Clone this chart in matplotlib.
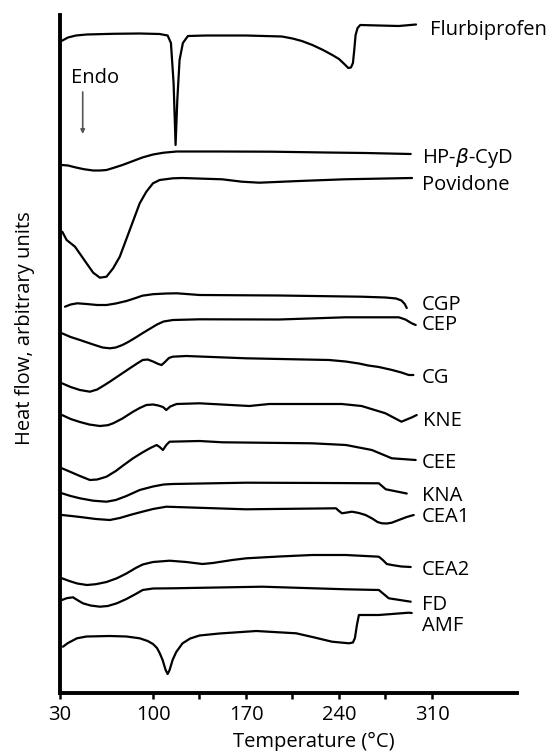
import matplotlib
matplotlib.use("Agg")
import matplotlib.pyplot as plt

plt.rcParams['font.family'] = ['Open Sans', 'DejaVu Sans']
plt.rcParams['mathtext.fontset'] = 'dejavusans'

# ---------------- data (temperature in °C, heat flow in arbitrary units) ----------------
flurbi_T = [31.5, 36, 42, 50, 70, 90, 105, 111, 113.5, 115.5, 117, 118.3, 120, 122.5, 126.3, 140, 170,
            197, 205, 212, 220, 228, 235, 240, 244, 247, 249, 250.5, 251.5, 252.5, 254, 256, 270, 285, 298]
flurbi_H = [659.3, 662.5, 664.5, 665.5, 666.2, 666.5, 666, 664.5, 657, 617, 555, 600, 640, 657, 664, 664.5,
            664.5, 663.5, 661.5, 659, 655, 650, 645, 641, 636, 632, 632.5, 637, 650, 665, 672, 675,
            674.5, 674, 675.5]

hpcyd_T = [31.5, 36, 42, 48, 55, 60, 65, 70, 77, 85, 92, 100, 108, 118, 150, 190, 230, 260, 294]
hpcyd_H = [535, 534.5, 532.5, 530.8, 529.5, 529.5, 530, 532, 535, 539, 542.5, 545.5, 547.3, 548.5,
           548.5, 548.3, 547.5, 547, 546]

povid_T = [31.7, 35, 41.3, 50, 55, 60, 65, 70, 75, 82.5, 90, 95, 100, 105, 115, 122, 152, 167, 180,
           210, 244, 295]
povid_H = [468.3, 460, 453.3, 436.7, 427.3, 422.3, 423.3, 431.7, 443.3, 470, 496.7, 508.3, 516.7, 520,
           521.7, 522, 520.7, 518.3, 517.3, 519, 520.7, 522]

cgp_T = [33.75, 38, 43, 50, 58, 65, 72, 80, 87, 92, 100, 110, 118, 135, 195, 257, 275, 283, 287,
         289.5, 291]
cgp_H = [393.3, 395.5, 396.7, 396, 395, 395, 396.5, 399, 402, 404.3, 405.8, 406.5, 406.7, 405, 404.5,
         403.3, 402.5, 401.5, 399.5, 396, 392]

cep_T = [31.5, 38, 45, 55, 62, 67.5, 72, 77, 82, 87, 92, 98, 103, 108, 115, 135, 195, 245, 285, 290,
         294.75, 297.75]
cep_H = [366.7, 363, 360, 355.5, 352.5, 351.7, 352.5, 355, 358.5, 362.5, 366.7, 371.5, 375.5, 378.5,
         380, 380.7, 380.5, 382.7, 382.7, 380.5, 376.7, 375]

cg_T = [31.5, 38, 45, 52.5, 58, 63, 67.5, 75, 82.5, 88, 92.25, 96, 100, 104, 106.5, 109, 112, 114.75,
        125, 170, 232.5, 245, 255, 262, 270, 280, 287, 292.5, 296]
cg_H = [316.7, 313, 310, 308.3, 310.5, 314.5, 318.3, 325, 331.7, 336.5, 340, 340.5, 338.5, 336, 335,
        338, 342, 343.3, 344, 341.7, 340, 338.5, 336.5, 334.5, 333, 330, 327.5, 325, 325]

kne_T = [31.5, 38, 45, 52, 60, 66, 70, 77, 85, 90, 95, 100, 104, 107.5, 110, 113, 117.75, 135, 172.5,
         187.5, 242, 257, 275, 287, 295, 298.5]
kne_H = [285, 281, 278, 275.5, 274, 274.8, 276.7, 281.5, 288.3, 292, 295, 295.5, 294.5, 293, 290,
         293.5, 296, 296.7, 294, 296, 296, 294, 286.7, 278.3, 282.7, 285]

cee_T = [31.5, 38, 45, 52.5, 58, 65, 72, 78, 85, 92, 98, 102.75, 105, 107.5, 110, 112.5, 135, 152.25,
         219.75, 245.25, 264.75, 279.75, 297.75]
cee_H = [231.7, 228, 224, 220, 220.5, 223.3, 229, 235, 241.7, 247.5, 252, 255, 253, 250, 255, 258.3,
         259, 257.7, 256.7, 255, 250, 241.7, 240]

kna_T = [31.5, 38, 45, 55, 65, 72, 80, 90, 100, 108, 114.75, 170.25, 230, 270, 275.25, 291]
kna_H = [206.7, 204, 201.7, 199.3, 198.3, 200, 204, 210, 213.5, 215.5, 216, 217.3, 217, 216.7, 210.7,
         206.5]

cea1_T = [31.5, 40, 47, 57, 67.5, 75, 84, 92, 100, 110, 170, 237.75, 240, 242.25, 246, 249.75, 255,
          260, 265, 269, 272.25, 276, 279.75, 285, 291, 296.25]
cea1_H = [185, 183.8, 182.7, 181, 180, 182, 185.5, 188.3, 191, 193.3, 190.7, 191.7, 189, 186.7, 187.5,
          188.3, 187, 185, 181.5, 178, 176.7, 176.5, 177.3, 180, 183, 185]

cea2_T = [31.5, 37, 43, 50.25, 57, 65, 72.75, 80, 87, 92.25, 100, 112.5, 125, 137.25, 145, 159.75,
          170.25, 195, 219.75, 245, 270, 273, 276, 279.75, 287, 294]
cea2_H = [121.7, 119, 116.5, 115, 115.8, 118, 121.7, 126.5, 132, 135.5, 138, 139.3, 138, 136, 137, 140,
          141.7, 143.5, 145, 145, 143.3, 140, 136, 135, 133.5, 133]

fd_T = [31.5, 35, 39.75, 43, 47.25, 53, 60, 66, 72.75, 80, 87, 92.25, 100, 114.75, 182.25, 245.25,
        270, 277.5, 294]
fd_H = [100, 101.8, 102.7, 100, 96.7, 94.5, 93.3, 94, 96.7, 101, 106, 110, 111.5, 111.7, 113.3, 110.7,
        110, 101.7, 98.3]

amf_T = [32.25, 36, 42.75, 50, 67.5, 80, 90, 96, 100, 103, 105, 107.25, 109.5, 111, 112.5, 114.75,
         117.5, 122.25, 128, 135, 150, 177.75, 207.75, 220, 234.75, 247.5, 250.5, 252, 253.5, 255,
         270, 292.5, 294.75]
amf_H = [53.3, 57, 61.7, 63.5, 64, 63.5, 61.7, 59, 56, 52, 47, 40, 30, 26, 30, 40, 48, 56.7, 61.5,
         64.5, 66.5, 69, 66.7, 63, 58.3, 56.7, 57.5, 62, 75, 85, 85, 87.3, 87]

curves = [
    ("Flurbiprofen", flurbi_T, flurbi_H),
    (r"HP-$\beta$-CyD", hpcyd_T, hpcyd_H),
    ("Povidone", povid_T, povid_H),
    ("CGP", cgp_T, cgp_H),
    ("CEP", cep_T, cep_H),
    ("CG", cg_T, cg_H),
    ("KNE", kne_T, kne_H),
    ("CEE", cee_T, cee_H),
    ("KNA", kna_T, kna_H),
    ("CEA1", cea1_T, cea1_H),
    ("CEA2", cea2_T, cea2_H),
    ("FD", fd_T, fd_H),
    ("AMF", amf_T, amf_H),
]

major_ticks = [30, 100, 170, 240, 310]
minor_ticks = [135, 205, 275]

# label positions (layout): x in °C, baseline in heat-flow units
label_pos = {
    "Flurbiprofen": (308.5, 665),
    r"HP-$\beta$-CyD": (302.5, 536.7),
    "Povidone": (302.5, 510),
    "CGP": (302.5, 390),
    "CEP": (302.5, 370),
    "CG": (302.5, 316.7),
    "KNE": (303.0, 274.3),
    "CEE": (302.5, 231.7),
    "KNA": (302.5, 199.3),
    "CEA1": (302.5, 177.7),
    "CEA2": (302.5, 125),
    "FD": (302.5, 90),
    "AMF": (302.5, 69.3),
}

FS = 14.5
W, H = 556, 751
fig = plt.figure(figsize=(W / 100, H / 100), dpi=100)
ax = fig.add_axes([60 / W, (H - 693) / H, 457 / W, 678 / H])

for name, T, Hf in curves:
    ax.plot(T, Hf, color='black', lw=1.6, solid_joinstyle='round', solid_capstyle='round',
            clip_on=False)
    lx, ly = label_pos[name]
    ax.text(lx, ly, name, ha='left', va='baseline', fontsize=FS, color='black', clip_on=False)

ax.set_xlim(30, 374)
ax.set_ylim(7, 685)

for s in ['top', 'right']:
    ax.spines[s].set_visible(False)
for s in ['left', 'bottom']:
    ax.spines[s].set_linewidth(2.8)
    ax.spines[s].set_color('black')

ax.set_yticks([])
ax.set_xticks(major_ticks)
ax.set_xticklabels([str(t) for t in major_ticks], fontsize=FS)
ax.set_xticks(minor_ticks, minor=True)
ax.tick_params(axis='x', which='both', direction='out', length=4, width=1.8, pad=5)

# Endo marker
ax.text(38, 617, "Endo", ha='left', va='baseline', fontsize=FS)
ax.annotate("", xy=(47.1, 566), xytext=(47.1, 608),
            arrowprops=dict(arrowstyle='-|>', color='#555555', lw=1.2,
                            mutation_scale=6, shrinkA=0, shrinkB=0))

fig.text(314 / W, 1 - 746.7 / H, "Temperature (°C)", ha='center', va='baseline', fontsize=FS)
fig.text(25 / W, 1 - 328 / H, "Heat flow, arbitrary units", ha='center', va='center',
         rotation=90, fontsize=FS)

fig.savefig("out.png", dpi=100)
